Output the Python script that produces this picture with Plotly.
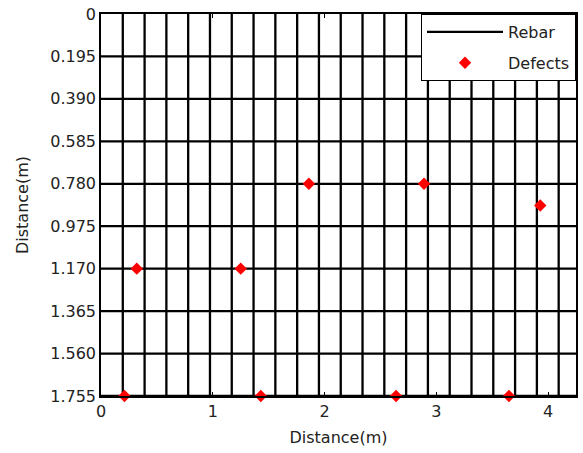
import plotly.graph_objects as go

# Rebar positions (m)
rebar_x = [0.195, 0.390, 0.585, 0.780, 0.975, 1.170, 1.365, 1.560, 1.755, 1.950,
           2.145, 2.340, 2.535, 2.730, 2.925, 3.120, 3.315, 3.510, 3.705, 3.900, 4.095]
rebar_y = [0.195, 0.390, 0.585, 0.780, 0.975, 1.170, 1.365, 1.560, 1.755]

# Defect positions (m)
defect_x = [0.21, 1.43, 2.64, 3.65, 0.32, 1.25, 1.86, 2.89, 3.93]
defect_y = [1.755, 1.755, 1.755, 1.755, 1.170, 1.170, 0.780, 0.780, 0.880]

x_range = [0, 4.25]
y_range = [0, 1.755]

y_tickvals = [0, 0.195, 0.390, 0.585, 0.780, 0.975, 1.170, 1.365, 1.560, 1.755]
y_ticktext = ["0", "0.195", "0.390", "0.585", "0.780", "0.975", "1.170", "1.365", "1.560", "1.755"]
x_tickvals = [0, 1, 2, 3, 4]

# Build rebar line segments
lx, ly = [], []
for xv in rebar_x:
    lx += [xv, xv, None]
    ly += [y_range[0], y_range[1], None]
for yv in rebar_y:
    lx += [x_range[0], x_range[1], None]
    ly += [yv, yv, None]

FONT = "DejaVu Sans"

fig = go.Figure()
fig.add_trace(go.Scatter(
    x=lx, y=ly, mode="lines", name="Rebar", legendgroup="a",
    line=dict(color="black", width=2.3),
    hoverinfo="skip",
))
fig.add_trace(go.Scatter(
    x=defect_x, y=defect_y, mode="markers", name="Defects", legendgroup="b",
    marker=dict(symbol="diamond", size=9.5, color="#ff0000", line=dict(width=0)),
    cliponaxis=False,
))

axis_common = dict(
    showline=True, linecolor="black", linewidth=1.5, mirror="allticks",
    ticks="inside", ticklen=4, tickcolor="black", tickwidth=1,
    showgrid=False, zeroline=False,
    tickfont=dict(family=FONT, size=16, color="#222"),
)

fig.update_layout(
    width=583, height=453,
    margin=dict(l=101, r=5, t=13, b=57),
    paper_bgcolor="white", plot_bgcolor="white",
    font=dict(family=FONT, size=16, color="#222"),
    showlegend=True,
    legend=dict(
        x=1, y=1, xanchor="right", yanchor="top",
        bgcolor="white", bordercolor="black", borderwidth=1,
        font=dict(family=FONT, size=16, color="#222"),
        itemwidth=76, traceorder="grouped", tracegroupgap=7,
    ),
    xaxis=dict(
        range=x_range, tickvals=x_tickvals,
        title=dict(text="Distance(m)", font=dict(family=FONT, size=16, color="#222"), standoff=12),
        **axis_common,
    ),
    yaxis=dict(
        range=[y_range[1], y_range[0]], tickvals=y_tickvals, ticktext=y_ticktext,
        title=dict(text="Distance(m)", font=dict(family=FONT, size=16, color="#222"), standoff=18),
        **axis_common,
    ),
)

fig.write_html("out.html", config={"displayModeBar": False},
               post_script="document.body.style.margin='0px';")
